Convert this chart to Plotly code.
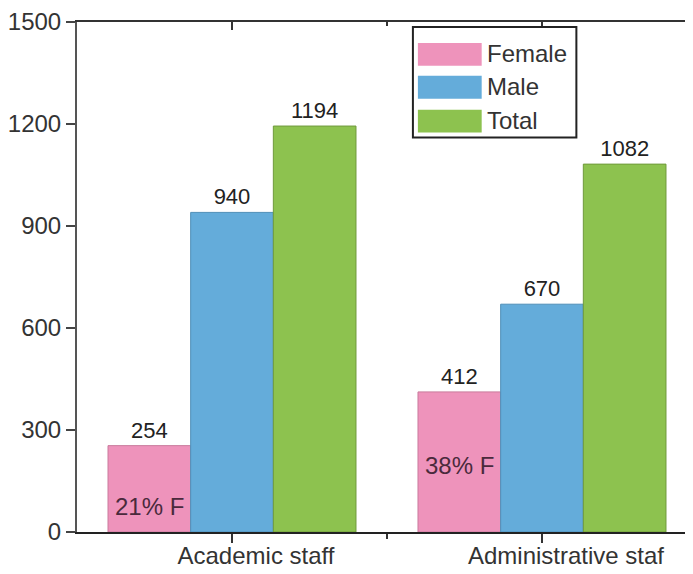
import plotly.graph_objects as go

categories = ["Academic staff", "Administrative staf"]
series_names = ["Female", "Male", "Total"]
female = [254, 412]
male = [940, 670]
total = [1194, 1082]
share_labels = ["21% F", "38% F"]
y_ticks = [0, 300, 600, 900, 1200, 1500]

colors = {"Female": "#EE93BB", "Male": "#64ACDA", "Total": "#8DC24F"}
edges = {"Female": "#c97a9c", "Male": "#4f8fb8", "Total": "#6f9a3c"}

# the page body has an 8px margin: the figure starts at screen (8, 8)
OFF = 8
W, H = 693 - OFF, 574 - OFF
# plot area in screen pixels: x 75..693, y 20..532
ML, MR, MT, MB = 75 - OFF, 0, 20 - OFF, 574 - 532
PW, PH = W - ML - MR, H - MT - MB
FONT = "Liberation Sans, Arial, sans-serif"

def px_x(p):
    # screen x -> paper
    return (p - 75) / PW

def px_y(p):
    # screen y -> paper
    return (532 - p) / PH

x_idx = list(range(len(categories)))
values = {"Female": female, "Male": male, "Total": total}

fig = go.Figure()
for name in series_names:
    fig.add_trace(go.Bar(
        x=x_idx, y=values[name], name=name,
        marker=dict(color=colors[name], line=dict(color=edges[name], width=1)),
        texttemplate="%{y}", textposition="outside",
        textfont=dict(family=FONT, size=22, color="#222222"),
        cliponaxis=False, showlegend=False,
    ))

# dummy trace for top x axis / right y axis (mirrored tick marks)
fig.add_trace(go.Scatter(x=[None], y=[None], xaxis="x2", yaxis="y2",
                         showlegend=False, hoverinfo="skip"))

xr = [-0.5, -0.5 + PW / 311.0]

fig.update_layout(
    width=W, height=H,
    margin=dict(l=ML, r=MR, t=MT, b=MB, pad=0),
    paper_bgcolor="white", plot_bgcolor="white",
    barmode="group", bargap=0.2, bargroupgap=0,
    showlegend=False,
    font=dict(family=FONT, size=24, color="#333333"),
    xaxis=dict(
        range=xr, tickmode="array", tickvals=x_idx, ticktext=categories,
        ticks="outside", ticklen=9, tickwidth=2, tickcolor="#333333",
        showline=True, linecolor="#222222", linewidth=2,
        showgrid=False, zeroline=False, ticklabelshift=24,
        ticklabelstandoff=-8, ticklabeloverflow="allow",
        tickfont=dict(family=FONT, size=24, color="#333333"),
        minor=dict(tickvals=[0.5], ticks="outside", ticklen=5,
                   tickwidth=2, tickcolor="#333333", showgrid=False),
    ),
    yaxis=dict(
        range=[0, 1500], tickmode="array", tickvals=y_ticks,
        ticks="outside", ticklen=9, tickwidth=2, tickcolor="#444444",
        showline=True, linecolor="#555555", linewidth=2,
        showgrid=False, zeroline=False, ticklabeloverflow="allow",
        tickfont=dict(family=FONT, size=24, color="#333333"),
    ),
    xaxis2=dict(
        overlaying="x", side="top", range=xr, tickmode="array",
        tickvals=x_idx, showticklabels=False, ticks="inside", ticklen=8,
        tickwidth=2, tickcolor="#333333", showline=True,
        linecolor="#333333", linewidth=2, showgrid=False, zeroline=False,
        minor=dict(tickvals=[0.5], ticks="inside", ticklen=4,
                   tickwidth=2, tickcolor="#333333", showgrid=False),
    ),
    yaxis2=dict(
        overlaying="y", side="right", range=[0, 1500], tickmode="array",
        tickvals=y_ticks, showticklabels=False, ticks="inside", ticklen=7,
        tickwidth=2, tickcolor="#444444", showline=False,
        showgrid=False, zeroline=False,
    ),
)

# percentage labels inside the female bars
female_offset = -0.8 / 3
pct_y = [75, 196]
for i, lab in enumerate(share_labels):
    fig.add_annotation(x=x_idx[i] + female_offset, y=pct_y[i], text=lab,
                       showarrow=False, xanchor="center", yanchor="middle",
                       font=dict(family=FONT, size=24, color="#4a2a3c"))

# custom legend box
fig.add_shape(type="rect", xref="paper", yref="paper",
              x0=px_x(412), x1=px_x(576), y0=px_y(136), y1=px_y(25),
              line=dict(color="#222222", width=2), fillcolor="white", layer="above")
leg_centers = [52, 85, 119]
for name, cy in zip(series_names, leg_centers):
    fig.add_shape(type="rect", xref="paper", yref="paper",
                  x0=px_x(417), x1=px_x(481), y0=px_y(cy + 12), y1=px_y(cy - 11),
                  line=dict(width=0), fillcolor=colors[name], layer="above")
    fig.add_annotation(xref="paper", yref="paper", x=px_x(484), y=px_y(cy),
                       text=name, showarrow=False, xanchor="left", yanchor="middle",
                       font=dict(family=FONT, size=24, color="#333333"))

fig.write_html("out.html")
